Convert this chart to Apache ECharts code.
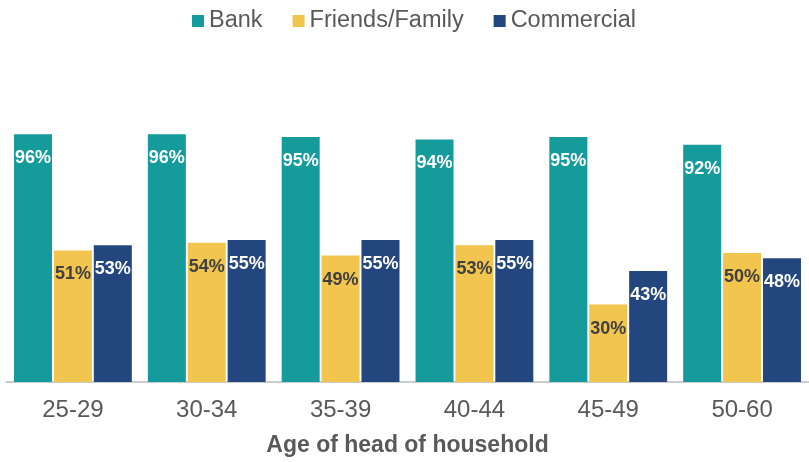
<!DOCTYPE html>
<html>
<head>
<meta charset="utf-8">
<script src="https://cdn.jsdelivr.net/npm/echarts@6/dist/echarts.min.js"></script>
<style>
  html, body { margin: 0; padding: 0; background: #fff; }
  #chart { width: 809px; height: 462px; }
</style>
</head>
<body>
<div id="chart"></div>
<script>
// Age groups of the head of household
const ageGroups = ['25-29', '30-34', '35-39', '40-44', '45-49', '50-60'];

// Share (%) using each source
const bank = [96, 96, 95, 94, 95, 92];
const friendsFamily = [51, 54, 49, 53, 30, 50];
const commercial = [53, 55, 55, 55, 43, 48];

const seriesNames = ['Bank', 'Friends/Family', 'Commercial'];
const seriesColors = ['#169b9c', '#f2c54e', '#23467e'];
const labelColors = ['#ffffff', '#404040', '#ffffff'];

const baseFont = 'Liberation Sans, Arial, sans-serif';

const chart = echarts.init(document.getElementById('chart'), null, { renderer: 'canvas' });

function barSeries(name, values, idx) {
  return {
    name: name,
    type: 'bar',
    data: values,
    barWidth: 38,
    barGap: '5%',
    itemStyle: { color: seriesColors[idx] },
    label: {
      show: true,
      position: 'insideTop',
      distance: 15,
      formatter: '{c}%',
      color: labelColors[idx],
      fontFamily: baseFont,
      fontWeight: 'bold',
      fontSize: 18
    }
  };
}

chart.setOption({
  animation: false,
  backgroundColor: '#ffffff',
  color: seriesColors,
  legend: {
    data: seriesNames,
    left: 192,
    top: 9,
    padding: 0,
    icon: 'rect',
    itemWidth: 12,
    itemHeight: 12,
    itemGap: 30,
    textStyle: {
      fontFamily: baseFont,
      fontSize: 23.5,
      color: '#595959'
    }
  },
  grid: { left: 6, right: -7, top: 124, bottom: 78, containLabel: false },
  xAxis: {
    type: 'category',
    data: ageGroups,
    name: 'Age of head of household',
    nameLocation: 'middle',
    nameGap: 52,
    nameTextStyle: {
      fontFamily: baseFont,
      fontWeight: 'bold',
      fontSize: 23,
      color: '#595959'
    },
    axisLine: { lineStyle: { color: '#bcbcbc', width: 1.5 } },
    axisTick: { show: false },
    axisLabel: {
      margin: 16,
      fontFamily: baseFont,
      fontSize: 24,
      color: '#595959'
    }
  },
  yAxis: {
    type: 'value',
    min: 0,
    max: 100,
    show: false,
    splitLine: { show: false }
  },
  series: [
    barSeries(seriesNames[0], bank, 0),
    barSeries(seriesNames[1], friendsFamily, 1),
    barSeries(seriesNames[2], commercial, 2)
  ]
});
</script>
</body>
</html>
